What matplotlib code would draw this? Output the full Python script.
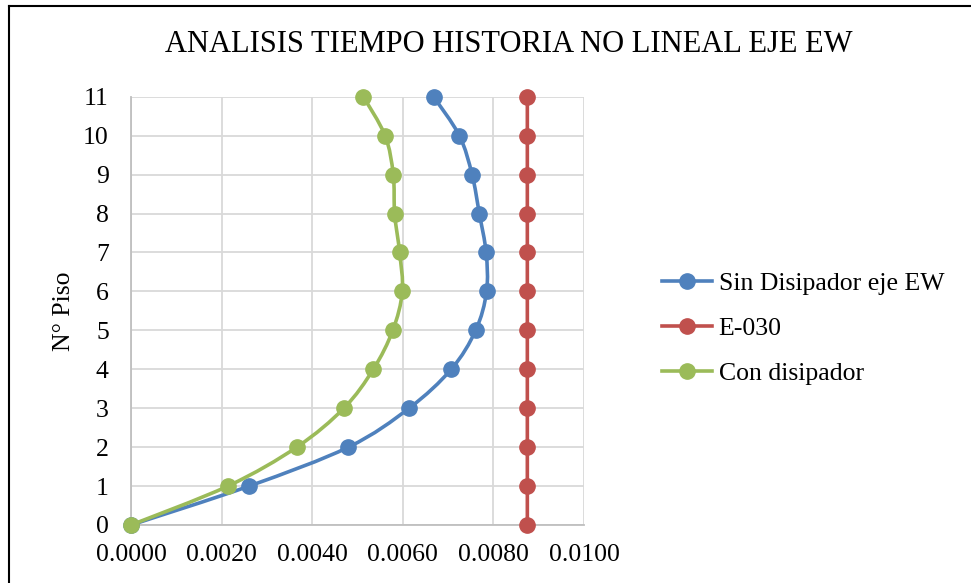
import numpy as np
import matplotlib
matplotlib.use("Agg")
import matplotlib.pyplot as plt
from matplotlib.path import Path
from matplotlib.patches import PathPatch
from matplotlib.lines import Line2D

plt.rcParams['font.family'] = ['Liberation Serif', 'DejaVu Serif']

pisos = [0, 1, 2, 3, 4, 5, 6, 7, 8, 9, 10, 11]
sin_disipador = [0.0, 0.00261, 0.00480, 0.00614, 0.00707, 0.00761, 0.00785,
                 0.00784, 0.00769, 0.00753, 0.00725, 0.00668]
e030 = [0.00875] * 12
con_disipador = [0.0, 0.00214, 0.00366, 0.00470, 0.00535, 0.00578, 0.00599,
                 0.00593, 0.00582, 0.00579, 0.00561, 0.00513]

series = [("Sin Disipador eje EW", sin_disipador, "#4f81bd"),
          ("E-030", e030, "#c0504d"),
          ("Con disipador", con_disipador, "#9bbb59")]

xticks = [0, 0.002, 0.004, 0.006, 0.008, 0.010]


def smooth_path(x, y):
    # excel-like smoothed line: catmull-rom turned into cubic bezier segments
    p = np.column_stack([x, y]).astype(float)
    pad = np.vstack([p[0], p, p[-1]])
    verts = [p[0]]
    codes = [Path.MOVETO]
    for i in range(len(p) - 1):
        a, b, c, d = pad[i], pad[i + 1], pad[i + 2], pad[i + 3]
        verts += [b + (c - a) / 6, c - (d - b) / 6, c]
        codes += [Path.CURVE4] * 3
    return Path(verts, codes)


fig = plt.figure(figsize=(9.71, 5.83), dpi=100)
ax = fig.add_axes([0.1349, 0.0995, 0.4665, 0.7346])

for k, (name, vals, col) in enumerate(series):
    ax.add_patch(PathPatch(smooth_path(vals, pisos), fill=False, edgecolor=col,
                           lw=2.6, zorder=3 + k, capstyle='round', clip_on=False))
    ax.plot(vals, pisos, ls='none', marker='o', ms=11, color=col, zorder=3 + k,
            clip_on=False)

ax.set_xlim(0, 0.01)
ax.set_ylim(0, 11)
ax.set_xticks(xticks)
ax.set_xticklabels(["%.4f" % v for v in xticks])
ax.set_yticks(pisos)
ax.tick_params(length=0, labelsize=18.5)
ax.tick_params(axis='y', pad=16)
ax.tick_params(axis='x', pad=14)
ax.grid(True, color='#d9d9d9', lw=1.3)
ax.set_axisbelow(True)
for s in ['top', 'right']:
    ax.spines[s].set_visible(False)
for s in ['left', 'bottom']:
    ax.spines[s].set_color('#bfbfbf')
    ax.spines[s].set_linewidth(1.3)
ax.set_ylabel("N° Piso", fontsize=18.5)
ax.yaxis.set_label_coords(-0.124, 0.5)

fig.text(0.524, 0.923, "ANALISIS TIEMPO HISTORIA NO LINEAL EJE EW",
         ha='center', va='center', fontsize=22)

handles = [Line2D([], [], color=c, lw=2.6, marker='o', ms=11) for _, _, c in series]
fig.legend(handles, [n for n, _, _ in series], loc='center left',
           bbox_to_anchor=(0.682, 0.436), frameon=False, fontsize=18.5,
           handlelength=1.95, handletextpad=0.25, labelspacing=0.85,
           borderpad=0, borderaxespad=0)

# chart area border (cropped at right / bottom)
fig.add_artist(Line2D([0.0093, 0.0093], [0, 0.99], transform=fig.transFigure,
                      color='black', lw=1.5))
fig.add_artist(Line2D([0.0093, 1], [0.99, 0.99], transform=fig.transFigure,
                      color='black', lw=1.5))

fig.savefig("out.png", dpi=100)
